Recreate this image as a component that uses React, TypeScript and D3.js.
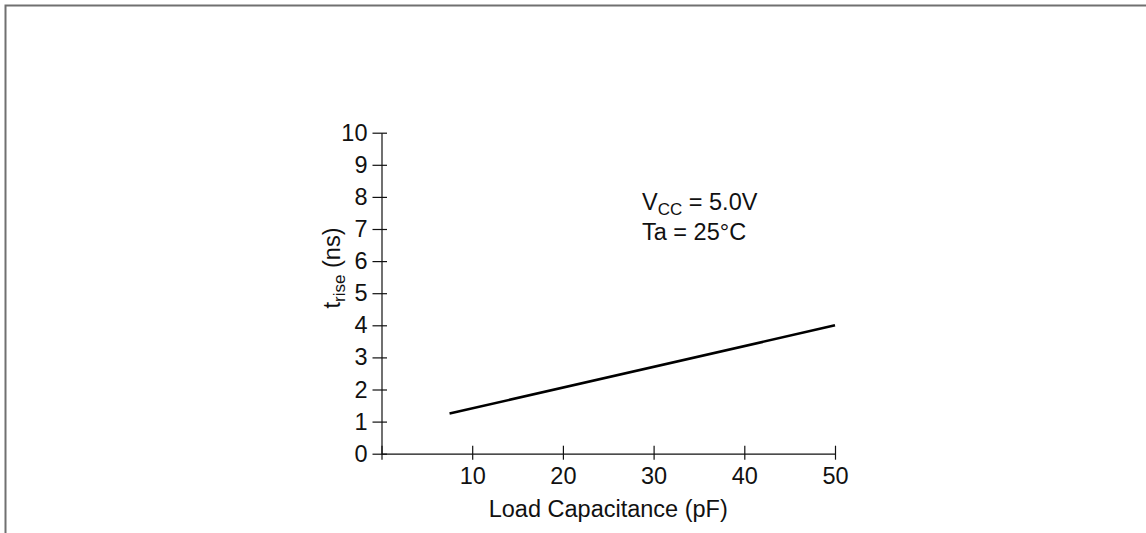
import React, { useRef, useEffect } from 'react';
import * as d3 from 'd3';

// values
const loadCap = [7.5, 50];
const tRise = [1.25, 4.0];
const xTicks = [0, 10, 20, 30, 40, 50];
const yTicks = [0, 1, 2, 3, 4, 5, 6, 7, 8, 9, 10];

const App = () => {
    const svgRef = useRef<SVGSVGElement>(null);

    useEffect(() => {
        if (!svgRef.current) return;

        const width = 1146;
        const height = 533;
        const plot = { left: 381.5, right: 835, top: 132.7, bottom: 453.7 };
        const font = '"Liberation Sans", Arial, Helvetica, sans-serif';
        const fs = 23.5;

        const svg = d3.select(svgRef.current)
            .attr('width', width)
            .attr('height', height)
            .attr('viewBox', `0 0 ${width} ${height}`);

        svg.selectAll('*').remove();

        svg.append('rect').attr('width', width).attr('height', height).attr('fill', 'white');

        // page frame (only top and left edges visible)
        svg.append('path')
            .attr('d', `M5.5,${height}V5.5H${width}`)
            .attr('fill', 'none')
            .attr('stroke', '#707070')
            .attr('stroke-width', 2);

        const x = d3.scaleLinear().domain([0, 50]).range([plot.left, plot.right]);
        const y = d3.scaleLinear().domain([0, 10]).range([plot.bottom, plot.top]);

        // y axis
        const gy = svg.append('g')
            .attr('transform', `translate(${plot.left},0)`)
            .call(d3.axisLeft(y).tickValues(yTicks).tickSize(9).tickSizeOuter(0).tickPadding(5));
        gy.select('.domain').attr('stroke', '#111').attr('stroke-width', 1.2);
        gy.selectAll('.tick line').attr('x1', 5.5).attr('stroke', '#111').attr('stroke-width', 1.2);
        gy.selectAll('.tick text')
            .attr('font-family', font)
            .attr('font-size', fs)
            .attr('fill', '#111');

        // x axis
        const gx = svg.append('g')
            .attr('transform', `translate(0,${plot.bottom})`)
            .call(d3.axisBottom(x).tickValues(xTicks).tickSize(0).tickSizeOuter(0)
                .tickFormat(d => (d === 0 ? '' : String(d))));
        gx.select('.domain').attr('stroke', '#111').attr('stroke-width', 1.2);
        gx.selectAll('.tick line').attr('y1', -8).attr('y2', 6).attr('stroke', '#111').attr('stroke-width', 1.2);
        gx.selectAll('.tick text')
            .attr('y', 14)
            .attr('font-family', font)
            .attr('font-size', fs)
            .attr('fill', '#111');

        // data line
        const line = d3.line<number>()
            .x((d, i) => x(loadCap[i]))
            .y(d => y(d));

        svg.append('path')
            .datum(tRise)
            .attr('fill', 'none')
            .attr('stroke', '#000')
            .attr('stroke-width', 2.6)
            .attr('d', line);

        // axis titles
        svg.append('text')
            .attr('x', (plot.left + plot.right) / 2)
            .attr('y', 517)
            .attr('text-anchor', 'middle')
            .attr('font-family', font)
            .attr('font-size', fs)
            .attr('fill', '#111')
            .text('Load Capacitance (pF)');

        const yt = svg.append('text')
            .attr('transform', 'translate(340,268) rotate(-90)')
            .attr('text-anchor', 'middle')
            .attr('font-family', font)
            .attr('font-size', fs)
            .attr('fill', '#111');
        yt.append('tspan').text('t');
        yt.append('tspan').attr('font-size', 17).attr('dy', 5).text('rise');
        yt.append('tspan').attr('dy', -5).text(' (ns)');

        // conditions note
        const note = svg.append('g')
            .attr('font-family', font)
            .attr('font-size', fs)
            .attr('fill', '#111');
        const l1 = note.append('text').attr('x', 642).attr('y', 209.5);
        l1.append('tspan').text('V');
        l1.append('tspan').attr('font-size', 17).attr('dy', 5).text('CC');
        l1.append('tspan').attr('dy', -5).text(' = 5.0V');
        note.append('text').attr('x', 642).attr('y', 240).text('Ta = 25°C');
    }, []);

    return <svg ref={svgRef} style={{ position: 'absolute', left: 0, top: 0, display: 'block' }} />;
};

export default App;
